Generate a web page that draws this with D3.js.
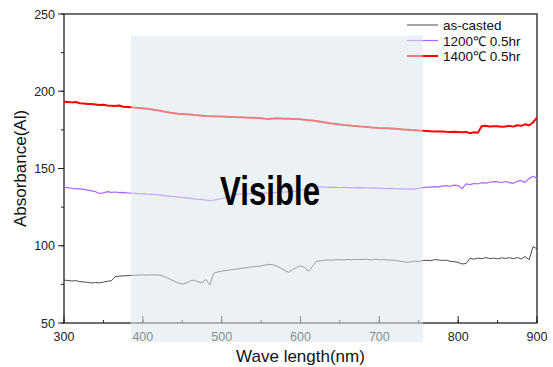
<!DOCTYPE html>
<html>
<head>
<meta charset="utf-8">
<script src="https://cdn.jsdelivr.net/npm/d3@7"></script>
<style>
  body { margin: 0; background: #fff; }
  text { font-family: "Liberation Sans", Arial, sans-serif; }
</style>
</head>
<body>
<script>
// absorbance spectra, every 5 nm

var wavelengths = d3.range(300, 901, 5);

var asCasted = [
  77.8, 77.5, 77.2, 77.4, 76.8, 76.6, 76.3, 75.9, 76.2, 76.0,
  76.5, 77.0, 77.3, 80.0, 80.3, 80.5, 80.6, 80.8, 80.9, 81.0,
  81.1, 81.0, 81.2, 81.1, 81.1, 80.5, 79.4, 78.3, 77.0, 75.8,
  75.2, 75.8, 77.2, 77.8, 76.6, 76.2, 78.1, 74.6, 82.2, 83.0,
  83.6, 83.9, 84.3, 84.7, 85.0, 85.4, 85.7, 86.1, 86.4, 86.7,
  86.9, 87.5, 88.0, 87.6, 86.8, 85.6, 84.0, 82.8, 84.5, 86.0,
  87.0, 86.0, 83.4, 86.5, 89.7, 90.3, 90.6, 90.8, 90.6, 90.9,
  91.0, 90.8, 91.1, 90.9, 91.2, 91.0, 91.3, 91.2, 90.8, 91.4,
  90.9, 91.1, 90.7, 90.8, 90.5, 90.1, 89.7, 89.3, 89.5, 90.1,
  89.8, 90.4, 90.6, 90.3, 91.0, 90.8, 90.5, 90.6, 89.9, 89.7,
  89.2, 88.2, 88.5, 91.9, 91.3, 92.0, 91.6, 92.3, 91.7, 92.0,
  91.5, 92.2, 91.8, 92.3, 91.6, 92.4, 91.5, 93.0, 90.9, 99.4,
  98.0
];

var heat1200 = [
  137.8, 137.6, 137.2, 137.0, 136.8, 136.5, 136.0, 135.5, 135.0, 133.8,
  134.2, 135.0, 134.6, 134.8, 134.4, 134.6, 134.2, 134.0, 133.9, 133.7,
  133.6, 133.4, 133.3, 133.1, 132.9, 132.6, 132.3, 132.0, 131.8, 131.5,
  131.3, 131.0, 130.7, 130.4, 130.1, 129.8, 129.5, 129.3, 129.5, 130.0,
  130.6, 131.1, 131.7, 132.4, 133.2, 133.5, 133.6, 133.7, 133.8, 133.9,
  134.0, 134.0, 134.2, 134.4, 134.5, 134.6, 134.8, 134.9, 135.0, 135.4,
  135.9, 136.4, 136.9, 137.4, 137.9, 138.2, 138.0, 137.8, 137.9, 137.8,
  137.7, 137.8, 137.6, 137.7, 137.5, 137.6, 137.4, 137.5, 137.3, 137.4,
  137.2, 137.1, 137.0, 137.1, 136.9, 136.8, 136.9, 136.7, 136.8, 136.7,
  137.2, 137.6, 137.9, 138.0, 138.3, 138.1, 138.6, 138.9, 138.5, 139.2,
  139.0, 137.0, 140.0, 139.6, 140.3, 140.1, 140.8, 140.5, 141.1, 141.5,
  141.3, 140.8, 141.6, 140.9, 140.4, 141.8, 142.1, 141.0, 143.6, 145.0,
  143.6
];

var heat1400 = [
  193.2, 193.0, 192.8, 193.0, 192.2, 192.0, 191.8, 191.7, 191.4, 191.1,
  191.3, 190.8, 190.6, 190.4, 190.8, 190.0, 189.8, 189.6, 189.4, 189.2,
  189.0, 188.7, 188.3, 187.9, 187.5, 187.1, 186.6, 186.1, 185.8, 185.5,
  185.3, 185.1, 184.9, 184.6, 184.4, 184.2, 184.0, 183.9, 183.8, 183.7,
  183.6, 183.5, 183.4, 183.3, 183.2, 183.1, 183.0, 182.9, 182.8, 182.7,
  182.5, 182.2, 182.0, 182.3, 182.5, 182.4, 182.2, 182.2, 182.1, 182.0,
  181.8, 181.6, 181.3, 181.0, 180.7, 180.3, 179.9, 179.5, 179.1, 178.8,
  178.5, 178.2, 178.0, 177.7, 177.5, 177.2, 177.0, 176.8, 176.6, 176.4,
  176.2, 176.1, 176.0, 175.9, 175.7, 175.5, 175.3, 175.1, 174.9, 174.8,
  174.6, 174.5, 174.3, 174.1, 174.0, 173.9, 174.0, 173.8, 173.7, 173.8,
  173.6, 173.4, 173.7, 172.8, 173.4, 173.2, 177.5, 177.6, 177.2, 177.4,
  177.3, 177.0, 177.2, 177.6, 177.1, 178.0, 177.6, 178.6, 178.0, 179.8,
  183.0
];

var seriesNames = ["as-casted", "1200\u2103 0.5hr", "1400\u2103 0.5hr"];
var seriesColors = ["#4a4a4a", "#a766ff", "#ff0000"];
var seriesWidths = [1, 1.2, 2];

var xTicks = [300, 400, 500, 600, 700, 800, 900];
var yTicks = [50, 100, 150, 200, 250];
var visibleBand = [385, 755];   // shaded range, nm
var visibleTop = 236;

var width = 553, height = 367;
var margin = {top: 14, right: 16, bottom: 44, left: 64};

var svg = d3.select("body").append("svg")
    .attr("width", width)
    .attr("height", height);

var x = d3.scaleLinear().domain([300, 900]).range([margin.left, width - margin.right]);
var y = d3.scaleLinear().domain([50, 250]).range([height - margin.bottom, margin.top]);

// frame
svg.append("rect")
   .attr("x", x(300)).attr("y", y(250))
   .attr("width", x(900) - x(300)).attr("height", y(50) - y(250))
   .attr("fill", "none").attr("stroke", "#222").attr("stroke-width", 1.3);

// y axis, ticks outward
var yAxis = svg.append("g").attr("transform", "translate(" + x(300) + ",0)");
yAxis.selectAll(".minor").data(d3.range(50, 251, 25)).enter().append("line")
   .attr("x1", -3).attr("x2", 0)
   .attr("y1", function(d) { return y(d); }).attr("y2", function(d) { return y(d); })
   .attr("stroke", "#222");
yAxis.selectAll(".major").data(yTicks).enter().append("line")
   .attr("x1", -6).attr("x2", 0)
   .attr("y1", function(d) { return y(d); }).attr("y2", function(d) { return y(d); })
   .attr("stroke", "#222");
yAxis.selectAll("text").data(yTicks).enter().append("text")
   .attr("x", -9).attr("y", function(d) { return y(d) + 4.5; })
   .attr("text-anchor", "end").attr("font-size", 12.5).attr("fill", "#222")
   .text(function(d) { return d; });

// x axis, ticks inward
var xAxis = svg.append("g").attr("transform", "translate(0," + y(50) + ")");
xAxis.selectAll(".minor").data(d3.range(300, 901, 50)).enter().append("line")
   .attr("x1", function(d) { return x(d); }).attr("x2", function(d) { return x(d); })
   .attr("y1", 0).attr("y2", -3)
   .attr("stroke", "#222");
xAxis.selectAll(".major").data(xTicks).enter().append("line")
   .attr("x1", function(d) { return x(d); }).attr("x2", function(d) { return x(d); })
   .attr("y1", 0).attr("y2", -7)
   .attr("stroke", "#222");
xAxis.selectAll("text").data(xTicks).enter().append("text")
   .attr("x", function(d) { return x(d); }).attr("y", 18)
   .attr("text-anchor", "middle").attr("font-size", 12.5).attr("fill", "#222")
   .text(function(d) { return d; });

svg.append("text")
   .attr("x", x(600)).attr("y", 362)
   .attr("text-anchor", "middle").attr("font-size", 17).attr("fill", "#111")
   .text("Wave length(nm)");
svg.append("text")
   .attr("transform", "translate(26," + y(150) + ") rotate(-90)")
   .attr("text-anchor", "middle").attr("font-size", 17).attr("fill", "#111")
   .text("Absorbance(Al)");

// spectra
var allSeries = [asCasted, heat1200, heat1400];
var line = d3.line()
   .x(function(d, i) { return x(wavelengths[i]); })
   .y(function(d) { return y(d); });

allSeries.forEach(function(vals, k) {
  svg.append("path")
     .datum(vals)
     .attr("d", line)
     .attr("fill", "none")
     .attr("stroke", seriesColors[k])
     .attr("stroke-width", seriesWidths[k])
     .attr("stroke-linejoin", "round");
});

// legend
var legend = svg.append("g");
seriesNames.forEach(function(name, k) {
  var ly = 25 + k * 15.5;
  legend.append("line")
     .attr("x1", 407).attr("x2", 438).attr("y1", ly).attr("y2", ly)
     .attr("stroke", seriesColors[k]).attr("stroke-width", seriesWidths[k]);
  legend.append("text")
     .attr("x", 443).attr("y", ly + 5)
     .attr("font-size", 13.5).attr("fill", "#111")
     .text(name);
});

// the visible band sits over everything, semi transparent
svg.append("rect")
   .attr("x", x(visibleBand[0]))
   .attr("y", y(visibleTop))
   .attr("width", x(visibleBand[1]) - x(visibleBand[0]))
   .attr("height", 342 - y(visibleTop))
   .attr("fill", "#dbe6eb")
   .attr("fill-opacity", 0.55);

svg.append("text")
   .attr("x", 220).attr("y", 205)
   .attr("textLength", 100).attr("lengthAdjust", "spacingAndGlyphs")
   .attr("font-family", "Roboto, 'Liberation Sans', sans-serif")
   .attr("font-weight", "bold")
   .attr("font-size", 41).attr("fill", "#000")
   .text("Visible");
</script>
</body>
</html>
